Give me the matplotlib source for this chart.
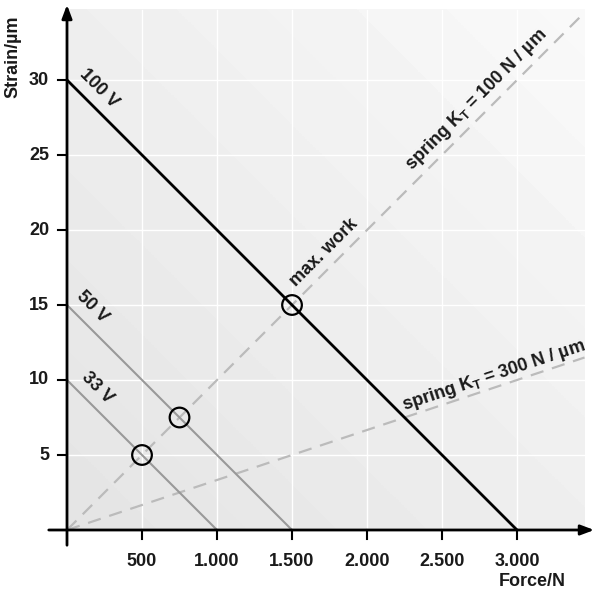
import numpy as np
import matplotlib
matplotlib.use("Agg")
import matplotlib.pyplot as plt

plt.rcParams['font.family'] = ['Liberation Sans', 'DejaVu Sans']
plt.rcParams['font.weight'] = 'bold'
plt.rcParams['mathtext.fontset'] = 'custom'
plt.rcParams['mathtext.rm'] = 'Liberation Sans:bold'
plt.rcParams['mathtext.default'] = 'rm'

# data
voltages = ["100 V", "50 V", "33 V"]
max_strain = [30, 15, 10]          # µm at zero force
blocking_force = [3000, 1500, 1000]  # N at zero strain
line_colors = ["#000000", "#999999", "#999999"]
springs = [100, 300]               # N/µm
spring_labels = [r"spring K$_\mathrm{T}$ = 100 N / µm", r"spring K$_\mathrm{T}$ = 300 N / µm"]
work_points_F = [1500, 750, 500]
work_points_S = [15, 7.5, 5]
xticks = [500, 1000, 1500, 2000, 2500, 3000]
xticklabels = ["500", "1.000", "1.500", "2.000", "2.500", "3.000"]
yticks = [5, 10, 15, 20, 25, 30]
F_end, S_end = 3450, 34.7

FS = 13
TXT = '#1a1a1a'

fig = plt.figure(figsize=(6, 5.92), dpi=100)
ax = fig.add_axes([46/600, 44/592, 551/600, 546/592])
ax.set_xlim(-140, 3533)
ax.set_ylim(-1.2, 35.2)
ax.axis('off')

# background diagonal bands
nx, ny = 700, 700
F = np.linspace(0, F_end, nx)
S = np.linspace(0, S_end, ny)
FF, SS = np.meshgrid(F, S)
d = FF / 3000 + SS / 30
band = np.floor(d * 5)
gray = np.clip(0.895 + 0.0075 * band, 0, 0.975)
ax.imshow(gray, extent=[0, F_end, 0, S_end], origin='lower', cmap='gray',
          vmin=0, vmax=1, aspect='auto', interpolation='nearest', zorder=0)

# white grid
for xt in xticks:
    ax.plot([xt, xt], [0, S_end], color='white', lw=1, zorder=1)
for yt in yticks:
    ax.plot([0, F_end], [yt, yt], color='white', lw=1, zorder=1)

# spring lines
for k in springs:
    ax.plot([0, F_end], [0, F_end / k], color='#bbbbbb', lw=1.6,
            dashes=(6, 4), zorder=2)

# voltage lines
for s0, f0, c in zip(max_strain, blocking_force, line_colors):
    ax.plot([0, f0], [s0, 0], color=c, lw=2 if c == "#000000" else 1.5, zorder=3)

# work points
ax.scatter(work_points_F, work_points_S, s=200, facecolors='none',
           edgecolors='black', linewidths=1.6, zorder=4)

# axes with arrows
ax.annotate('', xy=(3533, 0), xytext=(-140, 0),
            arrowprops=dict(arrowstyle='-|>,head_length=0.8,head_width=0.3', color='black', lw=2),
            zorder=5)
ax.annotate('', xy=(0, 35.2), xytext=(0, -1.2),
            arrowprops=dict(arrowstyle='-|>,head_length=0.8,head_width=0.3', color='black', lw=2),
            zorder=5)

# ticks
for xt, lab in zip(xticks, xticklabels):
    ax.plot([xt, xt], [0, -0.6], color='black', lw=1.5, zorder=5)
    ax.text(xt, -1.5, lab, ha='center', va='top', fontsize=FS, color=TXT, clip_on=False)
for yt in yticks:
    ax.plot([0, -60], [yt, yt], color='black', lw=1.5, zorder=5)
    ax.text(-120, yt, str(yt), ha='right', va='center', fontsize=FS, color=TXT, clip_on=False)

fig.text(532/600, 1 - 582/592, "Force/N", ha='center', va='center', fontsize=FS, color=TXT)
fig.text(13/600, 1 - 57/592, "Strain/µm", rotation=90, ha='center', va='center', fontsize=FS, color=TXT)

# labels
ax.text(210, 29.4, "100 V", rotation=-45, ha='center', va='center', fontsize=FS, color=TXT)
ax.text(167, 14.9, "50 V", rotation=-45, ha='center', va='center', fontsize=FS, color=TXT)
ax.text(200, 9.5, "33 V", rotation=-45, ha='center', va='center', fontsize=FS, color=TXT)
ax.text(1713, 18.5, "max. work", rotation=45, ha='center', va='center', fontsize=FS, color=TXT)
ax.text(2733, 28.7, spring_labels[0], rotation=45, ha='center', va='center', fontsize=FS, color=TXT)
ax.text(2847, 10.3, spring_labels[1], rotation=18.4, ha='center', va='center', fontsize=FS, color=TXT)

fig.savefig("out.png", dpi=100)
